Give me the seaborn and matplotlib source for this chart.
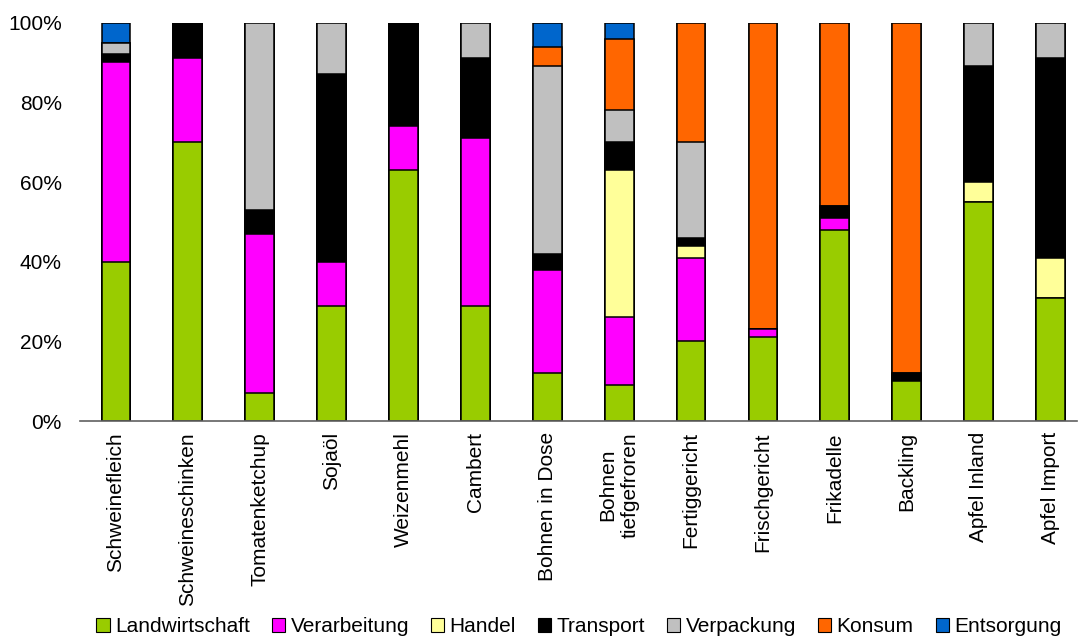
import pandas as pd
import matplotlib
matplotlib.use("Agg")
import matplotlib.pyplot as plt
import seaborn as sns
from matplotlib.patches import Patch
from matplotlib.ticker import FuncFormatter

# Produkte (x-Achse)
produkte = ["Schweinefleich", "Schweineschinken", "Tomatenketchup", "Sojaöl",
            "Weizenmehl", "Cambert", "Bohnen in Dose", "Bohnen\ntiefgefroren",
            "Fertiggericht", "Frischgericht", "Frikadelle", "Backling",
            "Apfel Inland", "Apfel Import"]

# Anteile in Prozent je Lebenszyklusphase
landwirtschaft = [40, 70, 7, 29, 63, 29, 12, 9, 20, 21, 48, 10, 55, 31]
verarbeitung = [50, 21, 40, 11, 11, 42, 26, 17, 21, 2, 3, 0, 0, 0]
handel = [0, 0, 0, 0, 0, 0, 0, 37, 3, 0, 0, 0, 5, 10]
transport = [2, 9, 6, 47, 26, 20, 4, 7, 2, 0, 3, 2, 29, 50]
verpackung = [3, 0, 47, 13, 0, 9, 47, 8, 24, 0, 0, 0, 11, 9]
konsum = [0, 0, 0, 0, 0, 0, 5, 18, 30, 77, 46, 88, 0, 0]
entsorgung = [5, 0, 0, 0, 0, 0, 6, 4, 0, 0, 0, 0, 0, 0]

phasen = ["Landwirtschaft", "Verarbeitung", "Handel", "Transport",
          "Verpackung", "Konsum", "Entsorgung"]
farben = ["#99CC00", "#FF00FF", "#FFFF99", "#000000",
          "#C0C0C0", "#FF6600", "#0066CC"]

df = pd.DataFrame({
    "Produkt": produkte,
    "Landwirtschaft": landwirtschaft,
    "Verarbeitung": verarbeitung,
    "Handel": handel,
    "Transport": transport,
    "Verpackung": verpackung,
    "Konsum": konsum,
    "Entsorgung": entsorgung,
})

# kumulierte Summen fuer gestapelte Balken
cum = df[phasen].cumsum(axis=1)

sns.set_style("white")
plt.rcParams["font.family"] = ["Liberation Sans", "DejaVu Sans"]
plt.rcParams["text.color"] = "black"
plt.rcParams["xtick.color"] = "black"
plt.rcParams["ytick.color"] = "black"

fig = plt.figure(figsize=(10.78, 6.39), dpi=100)
ax = fig.add_axes([0.0742, 0.341, 0.925, 0.6236])

# von oben nach unten zeichnen, damit die unteren Segmente drueber liegen
for phase, farbe in reversed(list(zip(phasen, farben))):
    sns.barplot(x=df["Produkt"], y=cum[phase], color=farbe, width=0.4,
                edgecolor="black", linewidth=1.1, saturation=1, ax=ax)

ax.set_ylim(0, 100)
ax.set_xlim(-0.5, 13.37)
ax.set_yticks([0, 20, 40, 60, 80, 100])
ax.yaxis.set_major_formatter(FuncFormatter(lambda v, p: f"{v:.0f}%"))
ax.tick_params(axis="y", labelsize=15, length=0, pad=13, labelcolor="black")
ax.tick_params(axis="x", labelsize=15, length=0, pad=8, labelcolor="black")
ax.set_xticks(range(len(produkte)))
ax.set_xticklabels(produkte, rotation=90, ha="center", va="top",
                   multialignment="center")
ax.set_xlabel("")
ax.set_ylabel("")

for s in ["left", "right", "top"]:
    ax.spines[s].set_visible(False)
ax.spines["bottom"].set_color("#606060")
ax.spines["bottom"].set_linewidth(1.2)

handles = [Patch(facecolor=f, edgecolor="black", linewidth=0.8) for f in farben]
fig.legend(handles, phasen, loc="center", bbox_to_anchor=(0.537, 0.019),
           ncol=7, frameon=False, fontsize=15, handlelength=0.65,
           handleheight=0.65, handletextpad=0.25, columnspacing=1.05,
           labelcolor="black")

fig.savefig("out.png", dpi=100)
